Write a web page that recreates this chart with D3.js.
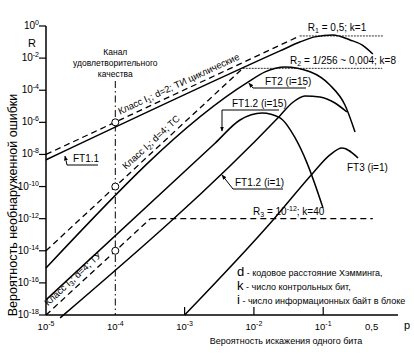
<!DOCTYPE html>
<html>
<head>
<meta charset="utf-8">
<script src="https://cdnjs.cloudflare.com/ajax/libs/d3/7.8.5/d3.min.js"></script>
<style>
  body { margin: 0; background: #fff; }
  svg { display: block; font-family: "Liberation Sans", Arial, sans-serif; }
</style>
</head>
<body>
<div id="chart"></div>
<script>
// tick values
const yTickExp = [0, -2, -4, -6, -8, -10, -12, -14, -16, -18];
const xTickExp = [-5, -4, -3, -2, -1];

// class lines (dashed), [p, R]
const classI1 = [[1e-5, 1e-8], [0.046, 0.24]];
const classI2 = [[1e-5, 1e-14], [0.0069, 0.0023]];
const classI3 = [[1e-5, 1e-18], [3.2e-4, 1e-12]];
const circles = [[1e-4, 1e-6], [1e-4, 1e-10], [1e-4, 1e-14]];

// residual levels
const levelR1 = [[0.046, 0.24], [0.74, 0.24]];
const levelR2 = [[0.0069, 0.0023], [0.71, 0.0023]];
const levelR3 = [[3.2e-4, 1e-12], [0.52, 1e-12]];

// format curves (solid)
const ft11 = [[1e-5, 4.6e-9], [0.0238, 0.028], [0.046, 0.1], [0.076, 0.21], [0.138, 0.275], [0.244, 0.135], [0.363, 0.066], [0.52, 0.018]];
const ft2 = [[1e-5, 8.5e-16], [0.0082, 3.2e-4], [0.0145, 1.4e-3], [0.0281, 2.8e-3], [0.0646, 1.4e-3], [0.125, 2.1e-4], [0.206, 1.2e-5], [0.288, 2.5e-7]];
const ft12i15 = [[1e-5, 8.7e-18], [0.00275, 5e-8], [0.0063, 1.4e-6], [0.0131, 3.8e-6], [0.0238, 1.9e-6], [0.0392, 1.1e-7], [0.0583, 3e-9], [0.0993, 4.7e-12]];
const ft12i1 = [[1.6e-5, 6.6e-19], [0.0238, 2.6e-6], [0.0355, 1.6e-5], [0.0546, 4.4e-5], [0.09, 3.8e-5], [0.148, 1.6e-5], [0.22, 4.4e-6]];
const ft3 = [[1e-3, 1e-18], [0.0189, 8.3e-13], [0.0713, 7e-10], [0.125, 9.3e-9], [0.187, 2.5e-8], [0.318, 6e-9]];

const W = 414, H = 354;
const svg = d3.select("#chart").append("svg").attr("width", W).attr("height", H);

const x = d3.scaleLog().domain([1e-5, 1]).range([46, 392.5]);
const y = d3.scaleLog().domain([1e-18, 1]).range([315, 26]);

const line = d3.line().x(d => x(d[0])).y(d => y(d[1]));
const curve = d3.line().x(d => x(d[0])).y(d => y(d[1])).curve(d3.curveMonotoneX);

// arrow head
svg.append("defs").append("marker")
  .attr("id", "arr").attr("viewBox", "0 0 10 10").attr("refX", 9).attr("refY", 5)
  .attr("markerWidth", 5).attr("markerHeight", 5).attr("orient", "auto")
  .append("path").attr("d", "M0,1 L10,5 L0,9 Z").attr("fill", "#000");

// axes
svg.append("line").attr("x1", x(1e-5)).attr("x2", x(1e-5)).attr("y1", y(1)).attr("y2", y(1e-18))
  .attr("stroke", "#000").attr("stroke-width", 1.5);
svg.append("line").attr("x1", x(1e-5)).attr("x2", x(1.2)).attr("y1", y(1e-18)).attr("y2", y(1e-18))
  .attr("stroke", "#000").attr("stroke-width", 1.5);

yTickExp.forEach(e => {
  const yy = y(Math.pow(10, e));
  svg.append("line").attr("x1", x(1e-5) - 7).attr("x2", x(1e-5)).attr("y1", yy).attr("y2", yy)
    .attr("stroke", "#000").attr("stroke-width", 1.2);
  const t = svg.append("text").attr("x", x(1e-5) - 7).attr("y", yy + 3)
    .attr("text-anchor", "end").attr("font-size", 10);
  t.append("tspan").text("10");
  t.append("tspan").attr("dy", -4).attr("font-size", 7).text(e === 0 ? "0" : "-" + (-e));
});

xTickExp.forEach(e => {
  const xx = x(Math.pow(10, e));
  if (e >= -3) {
    svg.append("line").attr("x1", xx).attr("x2", xx).attr("y1", y(1e-18)).attr("y2", y(1e-18) - 8)
      .attr("stroke", "#000").attr("stroke-width", 1.2);
  }
  const t = svg.append("text").attr("x", xx).attr("y", 330).attr("text-anchor", "middle").attr("font-size", 9.5);
  t.append("tspan").text("10");
  t.append("tspan").attr("dy", -4).attr("font-size", 7).text("-" + (-e));
});
svg.append("text").attr("x", x(0.5)).attr("y", 330).attr("text-anchor", "middle").attr("font-size", 9.5).text("0,5");
svg.append("text").attr("x", 407).attr("y", 329).attr("text-anchor", "middle").attr("font-size", 11).text("p");
svg.append("text").attr("x", 32).attr("y", 47).attr("text-anchor", "middle").attr("font-size", 11).text("R");

svg.append("text").attr("x", 286).attr("y", 344).attr("text-anchor", "middle").attr("font-size", 9)
  .text("Вероятность искажения одного бита");
svg.append("text").attr("transform", "translate(17,205) rotate(-90)").attr("text-anchor", "middle")
  .attr("font-size", 12.5).text("Вероятность необнаруженной ошибки");

// channel of satisfactory quality
["Канал", "удовлетворительного", "качества"].forEach((s, i) => {
  svg.append("text").attr("x", x(1e-4)).attr("y", 55 + i * 11).attr("text-anchor", "middle")
    .attr("font-size", 8.5).text(s);
});
svg.append("line").attr("x1", x(1e-4)).attr("x2", x(1e-4)).attr("y1", 81).attr("y2", y(1e-18))
  .attr("stroke", "#000").attr("stroke-width", 1).attr("stroke-dasharray", "7,3,1.5,3");

// class lines
[classI1, classI2, classI3].forEach(d => {
  svg.append("path").attr("d", line(d)).attr("fill", "none").attr("stroke", "#000")
    .attr("stroke-width", 1.3).attr("stroke-dasharray", "6,4");
});
[levelR1, levelR2].forEach(d => {
  svg.append("path").attr("d", line(d)).attr("fill", "none").attr("stroke", "#000")
    .attr("stroke-width", 0.8).attr("stroke-dasharray", "2,1");
});
svg.append("path").attr("d", line(levelR3)).attr("fill", "none").attr("stroke", "#000")
  .attr("stroke-width", 1.3).attr("stroke-dasharray", "6,4");

// format curves
[ft11, ft2, ft12i15, ft12i1, ft3].forEach(d => {
  svg.append("path").attr("d", curve(d)).attr("fill", "none").attr("stroke", "#000").attr("stroke-width", 1.5);
});

svg.selectAll(".pt").data(circles).enter().append("circle")
  .attr("cx", d => x(d[0])).attr("cy", d => y(d[1])).attr("r", 3.5)
  .attr("fill", "#fff").attr("stroke", "#000").attr("stroke-width", 1);

// labels along the class lines
function classLabel(p, R, slope, sub, rest) {
  const ang = -Math.atan(slope * (y(1e-1) - y(1)) / (x(1) - x(1e-1))) * 180 / Math.PI;
  const t = svg.append("text").attr("font-size", 9.5)
    .attr("transform", `translate(${x(p)},${y(R)}) rotate(${ang}) translate(0,-5)`);
  t.append("tspan").text("Класс I");
  t.append("tspan").attr("dy", 2).attr("font-size", 7).text(sub);
  t.append("tspan").attr("dy", -2).text(rest);
}
classLabel(1.25e-4, 1.56e-6, 2, "1", ";  d=2; ТИ циклические");
classLabel(1.6e-4, 6.5e-10, 4, "2", ";  d=4; ТС");
classLabel(1.2e-5, 2.1e-18, 4, "3", ";  d=4; ТУ");

// format labels
function ftLabel(tx, ty, txt, under, leader) {
  svg.append("text").attr("x", tx).attr("y", ty).attr("font-size", 10).text(txt);
  if (under) {
    svg.append("line").attr("x1", under[0]).attr("x2", under[1]).attr("y1", ty + 3).attr("y2", ty + 3)
      .attr("stroke", "#000").attr("stroke-width", 1);
  }
  if (leader) {
    svg.append("path").attr("d", d3.line()(leader)).attr("fill", "none").attr("stroke", "#000")
      .attr("stroke-width", 1).attr("marker-end", "url(#arr)");
  }
}
ftLabel(73, 162, "FT1.1", [67, 98], [[67, 165], [65, 156]]);
ftLabel(265, 85, "FT2 (i=15)", [253, 306], [[253, 88], [x(0.0082) + 1, y(3.2e-4) + 1]]);
ftLabel(232, 107, "FT1.2 (i=15)", [222, 279], [[222, 110], [222, 131]]);
ftLabel(235, 186, "FT1.2 (i=1)", [233, 283], [[233, 189], [222, 175]]);
ftLabel(347, 171, "FT3 (i=1)", null, null);

// residual level labels
function rLabel(tx, ty, anchor, sub, rest, sup, tail) {
  const t = svg.append("text").attr("x", tx).attr("y", ty).attr("text-anchor", anchor).attr("font-size", 10);
  t.append("tspan").text("R");
  t.append("tspan").attr("dy", 2).attr("font-size", 7).text(sub);
  t.append("tspan").attr("dy", -2).text(rest);
  if (sup) {
    t.append("tspan").attr("dy", -4).attr("font-size", 7).text(sup);
    t.append("tspan").attr("dy", 4).text(tail);
  }
}
rLabel(337, 31, "middle", "1", " = 0,5;  k=1");
rLabel(343, 64, "middle", "2", " = 1/256 ~ 0,004; k=8");
rLabel(253, 215, "start", "3", " = 10", "-12", "; k=40");

// legend notes
[["d", " - кодовое расстояние Хэмминга,", 276], ["k", " - число контрольных бит,", 290], ["i", " - число информационных байт в блоке", 304]]
  .forEach(r => {
    const t = svg.append("text").attr("x", 237).attr("y", r[2]).attr("font-size", 9);
    t.append("tspan").attr("font-size", 13).text(r[0]);
    t.append("tspan").text(r[1]);
  });
</script>
</body>
</html>
